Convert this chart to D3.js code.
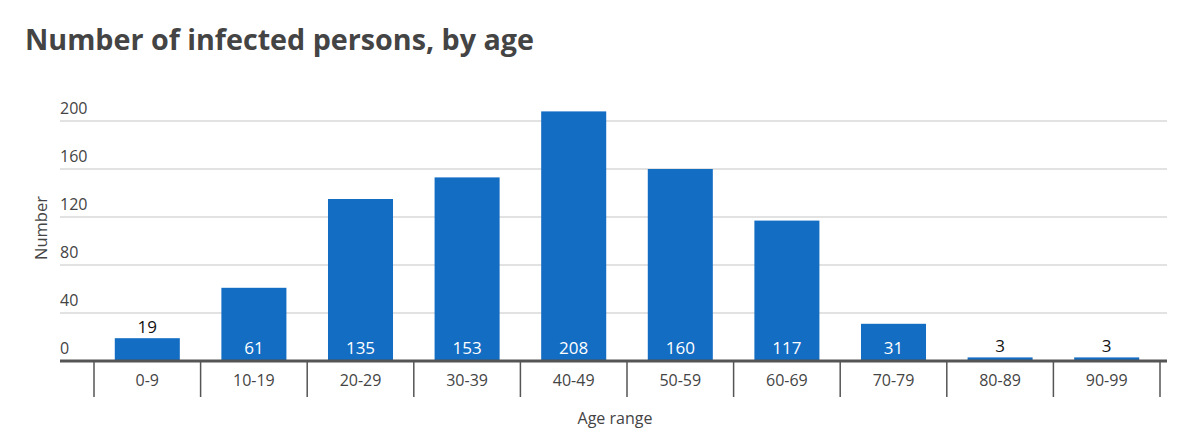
<!DOCTYPE html>
<html><head><meta charset="utf-8">
<script src="https://cdn.jsdelivr.net/npm/d3@7"></script>
<style>
body{margin:0;background:#fff;}
text{font-family:"Open Sans","Noto Sans",sans-serif;}
</style></head>
<body><svg id="c" width="1200" height="445"></svg>
<script>
const categories = ["0-9","10-19","20-29","30-39","40-49","50-59","60-69","70-79","80-89","90-99"];
const values = [19,61,135,153,208,160,117,31,3,3];
const yTicks = [0,40,80,120,160,200];

const svg = d3.select("#c");
const x0 = 94, x1 = 1160, yBase = 361, yTop = 121;
const x = d3.scaleBand().domain(categories).range([x0,x1]).paddingInner(0.39).paddingOuter(0.195);
const xb = d3.scaleBand().domain(categories).range([x0,x1]);
const y = d3.scaleLinear().domain([0,200]).range([yBase,yTop]);

svg.append("text").attr("x",25).attr("y",50).attr("font-size",28.7).attr("font-weight",700)
  .attr("fill","#444").text("Number of infected persons, by age");

// gridlines
svg.append("g").selectAll("line").data(yTicks.filter(d=>d>0)).join("line")
  .attr("x1",60).attr("x2",1167).attr("y1",d=>y(d)).attr("y2",d=>y(d))
  .attr("stroke","#d9d9d9").attr("stroke-width",1.5);
svg.append("g").selectAll("text").data(yTicks).join("text")
  .attr("x",60).attr("y",d=>y(d)-7).attr("font-size",16).attr("fill","#444").text(d=>d);

// bars
svg.append("g").selectAll("rect").data(values).join("rect")
  .attr("x",(d,i)=>x(categories[i])).attr("width",x.bandwidth())
  .attr("y",d=>y(d)).attr("height",d=>yBase-y(d)).attr("fill","#136dc3");

// labels
svg.append("g").selectAll("text").data(values).join("text")
  .attr("x",(d,i)=>x(categories[i])+x.bandwidth()/2)
  .attr("y",d=> d>=25 ? yBase-7 : y(d)-5)
  .attr("text-anchor","middle").attr("font-size",17)
  .attr("fill",d=> d>=25 ? "#fff" : "#111").text(d=>d);

// x axis
svg.append("line").attr("x1",60).attr("x2",1167).attr("y1",yBase).attr("y2",yBase)
  .attr("stroke","#555").attr("stroke-width",3);
const bounds = categories.map(c=>xb(c)).concat([x1]);
svg.append("g").selectAll("line").data(bounds).join("line")
  .attr("x1",d=>d).attr("x2",d=>d).attr("y1",yBase).attr("y2",397)
  .attr("stroke","#555").attr("stroke-width",1.5);
svg.append("g").selectAll("text").data(categories).join("text")
  .attr("x",d=>xb(d)+xb.bandwidth()/2).attr("y",386).attr("text-anchor","middle")
  .attr("font-size",16).attr("fill","#444").text(d=>d);

svg.append("text").attr("x",615).attr("y",424).attr("text-anchor","middle")
  .attr("font-size",16).attr("fill","#444").text("Age range");
svg.append("text").attr("transform","translate(47,228) rotate(-90)").attr("text-anchor","middle")
  .attr("font-size",16.5).attr("fill","#444").text("Number");
</script></body></html>
